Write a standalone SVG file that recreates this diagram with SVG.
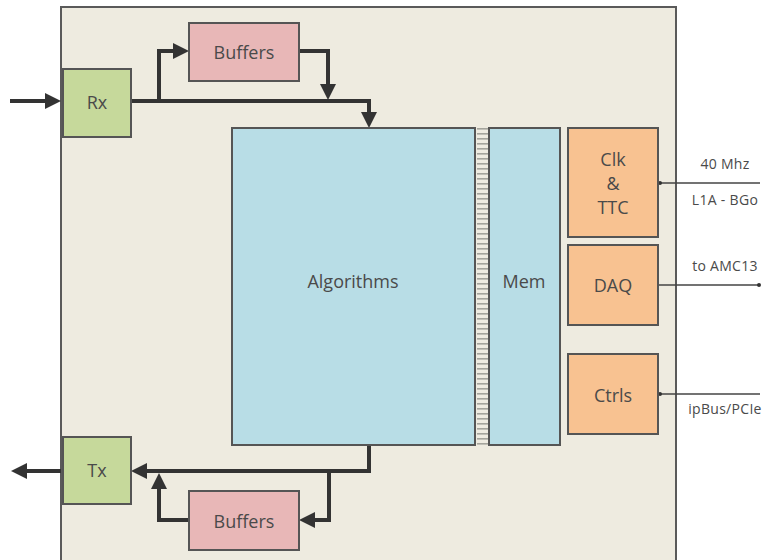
<svg xmlns="http://www.w3.org/2000/svg" width="768" height="560" viewBox="0 0 768 560">
<defs>
<style>
.box{stroke:#555;stroke-width:2}
.green{fill:#c6d99b}
.pink{fill:#e8b7b7}
.blue{fill:#b8dde6}
.orange{fill:#f8c291}
.lbl{font-family:"Open Sans","DejaVu Sans",sans-serif;font-size:18px;fill:#4a4a4a;text-anchor:middle}
.sm{font-family:"Open Sans","DejaVu Sans",sans-serif;font-size:14px;letter-spacing:0.3px;fill:#4a4a4a;text-anchor:middle}
.conn{fill:none;stroke:#333;stroke-width:4}
.thin{fill:none;stroke:#444;stroke-width:1.5}
</style>
<marker id="ah" markerUnits="userSpaceOnUse" markerWidth="18" markerHeight="18" refX="12" refY="8" orient="auto">
<path d="M0,0 L16,8 L0,16 z" fill="#333"/>
</marker>
<pattern id="stripes" patternUnits="userSpaceOnUse" width="10" height="5">
<rect width="10" height="5" fill="#efece2"/>
<rect y="3" width="10" height="1.6" fill="#a4a49c"/>
</pattern>
</defs>
<rect x="61" y="7" width="615" height="560" fill="#eeebe0" stroke="#5a5a5a" stroke-width="2"/>
<rect x="477" y="128" width="11" height="317" fill="url(#stripes)"/>
<g id="connectors">
<path class="conn" d="M10,101 H57" marker-end="url(#ah)"/>
<path class="conn" d="M131,101 H369 V124" marker-end="url(#ah)"/>
<path class="conn" d="M159,101 V51 H185" marker-end="url(#ah)"/>
<path class="conn" d="M299,51 H328 V96" marker-end="url(#ah)"/>
<path class="conn" d="M369,445 V471 H135" marker-end="url(#ah)"/>
<path class="conn" d="M329,471 V520 H303" marker-end="url(#ah)"/>
<path class="conn" d="M189,520 H159 V477" marker-end="url(#ah)"/>
<path class="conn" d="M61,471 H15" marker-end="url(#ah)"/>
<path class="thin" d="M659,183 H760"/>
<circle cx="660" cy="183" r="2" fill="#333"/>
<path class="thin" d="M658,285 H759"/>
<circle cx="759" cy="285" r="2" fill="#333"/>
<path class="thin" d="M659,394 H760"/>
<circle cx="660" cy="394" r="2" fill="#333"/>
</g>
<g id="rx"><rect class="box green" x="63" y="69" width="68" height="68"/><text class="lbl" x="97" y="109">Rx</text></g>
<g id="buffers-top"><rect class="box pink" x="189" y="23" width="110" height="58"/><text class="lbl" x="244" y="59">Buffers</text></g>
<g id="algorithms"><rect class="box blue" x="232" y="128" width="243" height="317"/><text class="lbl" x="353" y="288">Algorithms</text></g>
<g id="mem"><rect class="box blue" x="489" y="128" width="71" height="317"/><text class="lbl" x="524" y="288">Mem</text></g>
<g id="clk-ttc"><rect class="box orange" x="568" y="128" width="90" height="109"/><text class="lbl" x="613" y="166">Clk</text><text class="lbl" x="613" y="190">&amp;</text><text class="lbl" x="613" y="214">TTC</text></g>
<g id="daq"><rect class="box orange" x="568" y="245" width="90" height="80"/><text class="lbl" x="613" y="292">DAQ</text></g>
<g id="ctrls"><rect class="box orange" x="568" y="354" width="90" height="80"/><text class="lbl" x="613" y="402">Ctrls</text></g>
<g id="tx"><rect class="box green" x="63" y="437" width="68" height="67"/><text class="lbl" x="97" y="477">Tx</text></g>
<g id="buffers-bottom"><rect class="box pink" x="189" y="491" width="110" height="59"/><text class="lbl" x="244" y="528">Buffers</text></g>
<g id="labels">
<text class="sm" x="725" y="169">40 Mhz</text>
<text class="sm" x="725" y="205">L1A - BGo</text>
<text class="sm" x="725" y="271">to AMC13</text>
<text class="sm" x="725" y="414">ipBus/PCIe</text>
</g>
</svg>
